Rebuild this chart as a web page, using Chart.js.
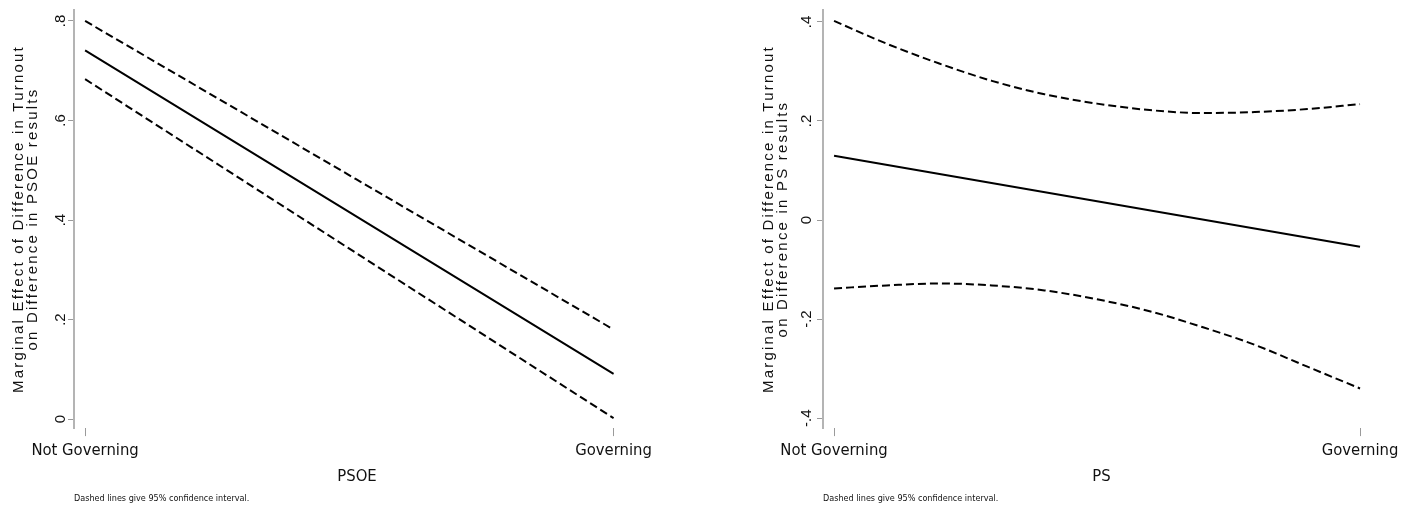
<!DOCTYPE html>
<html>
<head>
<meta charset="utf-8">
<script src="https://cdn.jsdelivr.net/npm/chart.js@4.4.1/dist/chart.umd.min.js"></script>
<style>
  html, body { margin: 0; padding: 0; background: #fff; }
  .panel { position: absolute; top: 0; height: 512px; }
  #left-panel { left: 0; width: 700px; }
  #right-panel { left: 750px; width: 663px; }
</style>
</head>
<body>
<div class="panel" id="left-panel"><canvas id="psoe-chart"></canvas></div>
<div class="panel" id="right-panel"><canvas id="ps-chart"></canvas></div>
<script>
// x: governing status (0 = not governing, 1 = governing)
const xTickValues = [0, 1];
const xTickLabels = ['Not Governing', 'Governing'];

// PSOE panel
const psoeX = [0, 1];
const psoeEffect = [0.741, 0.091];
const psoeUpper = [0.800, 0.180];
const psoeLower = [0.683, 0.002];
const psoeYTicks = [0, 0.2, 0.4, 0.6, 0.8];
const psoeYLabels = ['0', '.2', '.4', '.6', '.8'];

// PS panel
const psEffectX = [0, 1];
const psEffect = [0.130, -0.054];
const psBandX = [0, 0.1, 0.2, 0.3, 0.4, 0.5, 0.6, 0.7, 0.8, 0.9, 1];
const psUpper = [0.402, 0.356, 0.316, 0.281, 0.254, 0.235, 0.222, 0.216, 0.218, 0.224, 0.234];
const psLower = [-0.138, -0.132, -0.128, -0.132, -0.142, -0.160, -0.184, -0.216, -0.252, -0.296, -0.340];
const psYTicks = [-0.4, -0.2, 0, 0.2, 0.4];
const psYLabels = ['-.4', '-.2', '0', '.2', '.4'];

const NARROW = "'Liberation Sans Narrow', 'Arial Narrow', 'DejaVu Sans Condensed', sans-serif";
const REGULAR = "'Liberation Sans', Arial, sans-serif";

// Stata-style letter spaced y axis title
const spacedTitle = {
    id: 'spacedTitle',
    afterLayout(chart) {
        const s = chart.scales.y;
        if (!s || s._spaced) return;
        const draw = s.drawTitle;
        s.drawTitle = function () {
            this.ctx.save();
            this.ctx.letterSpacing = '2.2px';
            draw.call(this);
            this.ctx.restore();
        };
        s._spaced = true;
    }
};

function toPoints(xs, ys) {
    return xs.map((x, i) => ({ x: x, y: ys[i] }));
}

function lineSet(xs, ys, dashed) {
    return {
        data: toPoints(xs, ys),
        borderColor: '#000',
        borderWidth: 2,
        borderDash: dashed ? [8, 4] : [],
        pointRadius: 0,
        tension: 0.4,
        cubicInterpolationMode: 'monotone',
        fill: false
    };
}

function makeChart(id, cfg) {
    const ctx = document.getElementById(id).getContext('2d');
    return new Chart(ctx, {
        type: 'line',
        data: {
            datasets: cfg.lines
        },
        plugins: [spacedTitle],
        options: {
            responsive: true,
            maintainAspectRatio: false,
            animation: false,
            layout: {
                padding: { left: cfg.padLeft, right: cfg.padRight, top: 8, bottom: 0 }
            },
            scales: {
                x: {
                    type: 'linear',
                    min: cfg.xMin,
                    max: cfg.xMax,
                    afterBuildTicks: s => { s.ticks = xTickValues.map(v => ({ value: v })); },
                    border: { display: false },
                    grid: { drawOnChartArea: false, drawTicks: true, tickLength: 8, color: '#9a9a9a' },
                    ticks: {
                        color: '#111',
                        padding: 5,
                        maxRotation: 0,
                        font: { family: NARROW, size: 16.5 },
                        callback: v => xTickLabels[xTickValues.indexOf(v)]
                    },
                    title: {
                        display: true,
                        text: cfg.xTitle,
                        color: '#111',
                        padding: { top: 1, bottom: 0 },
                        font: { family: NARROW, size: 16.5 }
                    }
                },
                y: {
                    min: cfg.yMin,
                    max: cfg.yMax,
                    afterBuildTicks: s => { s.ticks = cfg.yTicks.map(v => ({ value: v })); },
                    afterFit: s => { s.width = cfg.yWidth; },
                    border: { display: true, color: '#b4b4b4', width: 2 },
                    grid: { drawOnChartArea: false, drawTicks: true, tickLength: 6, color: '#9a9a9a' },
                    ticks: {
                        color: '#111',
                        padding: 1,
                        minRotation: 90,
                        maxRotation: 90,
                        crossAlign: 'center',
                        font: { family: REGULAR, size: 15 },
                        callback: v => cfg.yLabels[cfg.yTicks.findIndex(t => Math.abs(t - v) < 1e-9)]
                    },
                    title: {
                        display: true,
                        text: cfg.yTitle,
                        color: '#111',
                        padding: { top: 12, bottom: 0 },
                        font: { family: REGULAR, size: 15, lineHeight: 0.93 }
                    }
                }
            },
            plugins: {
                legend: { display: false },
                tooltip: { enabled: false },
                title: {
                    display: true,
                    text: 'Dashed lines give 95% confidence interval.',
                    position: 'bottom',
                    align: 'start',
                    fullSize: false,
                    color: '#111',
                    padding: { top: 7, bottom: 7.5 },
                    font: { family: NARROW, size: 9, weight: 'normal' }
                }
            }
        }
    });
}

makeChart('psoe-chart', {
    lines: [
        lineSet(psoeX, psoeUpper, true),
        lineSet(psoeX, psoeEffect, false),
        lineSet(psoeX, psoeLower, true)
    ],
    xTitle: 'PSOE',
    yTitle: ['Marginal Effect of Difference in Turnout', 'on Difference in PSOE results'],
    yTicks: psoeYTicks,
    yLabels: psoeYLabels,
    yMin: -0.018,
    yMax: 0.822,
    xMin: -0.021,
    xMax: 1.05,
    yWidth: 74,
    padLeft: 0,
    padRight: 60
});

makeChart('ps-chart', {
    lines: [
        lineSet(psBandX, psUpper, true),
        lineSet(psEffectX, psEffect, false),
        lineSet(psBandX, psLower, true)
    ],
    xTitle: 'PS',
    yTitle: ['Marginal Effect of Difference in Turnout', 'on Difference in PS results'],
    yTicks: psYTicks,
    yLabels: psYLabels,
    yMin: -0.42,
    yMax: 0.424,
    xMin: -0.021,
    xMax: 1.038,
    yWidth: 73,
    padLeft: 0,
    padRight: 33
});
</script>
</body>
</html>
